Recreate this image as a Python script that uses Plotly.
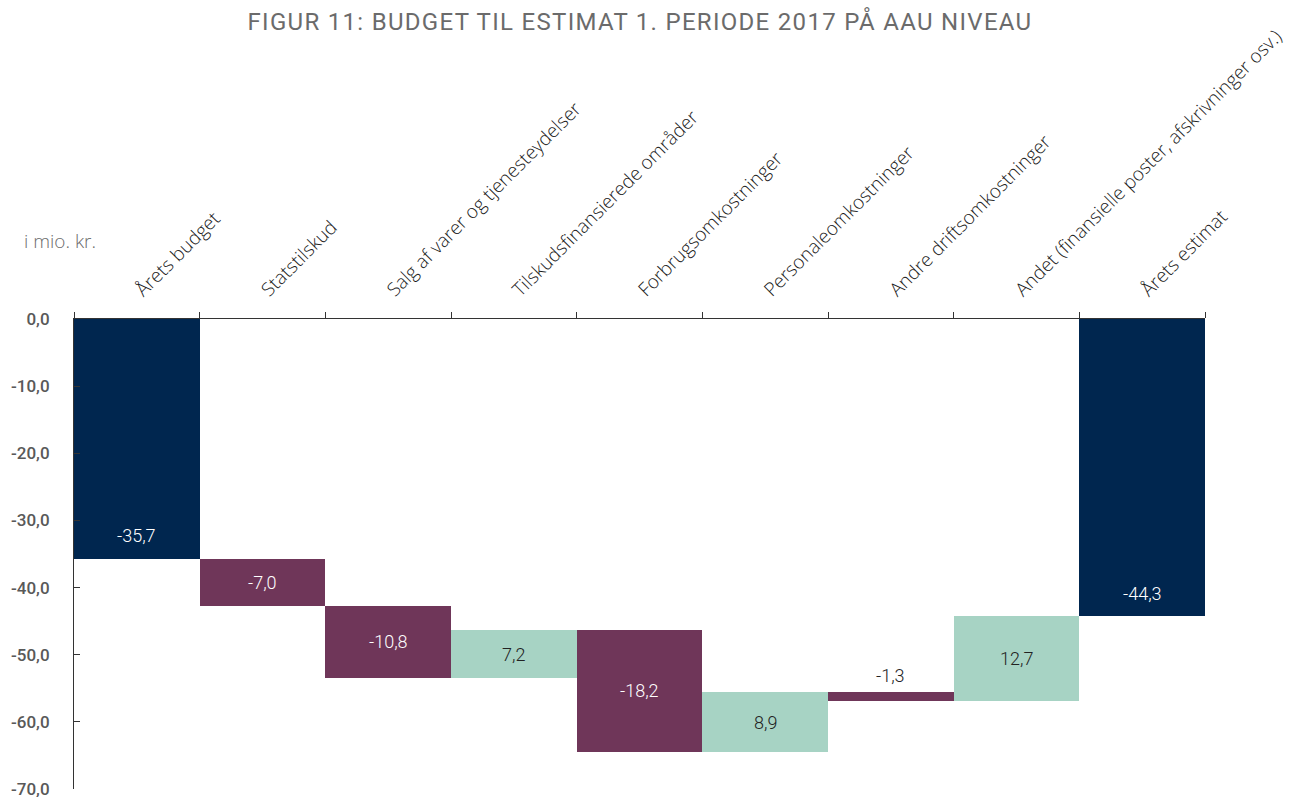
import plotly.graph_objects as go

categories = ["Årets budget", "Statstilskud", "Salg af varer og tjenesteydelser",
              "Tilskudsfinansierede områder", "Forbrugsomkostninger", "Personaleomkostninger",
              "Andre driftsomkostninger", "Andet (finansielle poster, afskrivninger osv.)",
              "Årets estimat"]
values = [-35.7, -7.0, -10.8, 7.2, -18.2, 8.9, -1.3, 12.7, -44.3]
measures = ["absolute", "relative", "relative", "relative", "relative", "relative",
            "relative", "relative", "absolute"]
y_ticks = [0, -10, -20, -30, -40, -50, -60, -70]

NAVY = "#00264f"
PURPLE = "#6f3659"
MINT = "#a7d3c4"

W, H = 1303, 797
ML, MR, MT, MB = 74, 98, 319, 8
PW, PH = W - ML - MR, H - MT - MB

def fmt(v):
    return f"{v:.1f}".replace(".", ",")

fig = go.Figure()
fig.add_trace(go.Waterfall(
    x=categories, y=values, measure=measures,
    decreasing=dict(marker=dict(color=PURPLE, line=dict(width=0))),
    increasing=dict(marker=dict(color=MINT, line=dict(width=0))),
    totals=dict(marker=dict(color=NAVY, line=dict(width=0))),
    connector=dict(visible=False),
    textinfo="none", hoverinfo="skip",
))

# data labels derived from the running totals
annotations = []
running = 0.0
for cat, v, m in zip(categories, values, measures):
    if m == "absolute":
        start, end = 0.0, v
        running = v
        y, anchor, col = end + 3.4, "middle", "white"
    else:
        start, end = running, running + v
        running = end
        if abs(v) < 3:
            y, anchor, col = max(start, end) + 0.6, "bottom", "#222222"
        else:
            y, anchor, col = (start + end) / 2, "middle", ("#222222" if v > 0 else "white")
    annotations.append(dict(x=cat, y=y, xref="x", yref="y", text=fmt(v), showarrow=False,
                            yanchor=anchor,
                            font=dict(family="Roboto", size=18, color=col, weight=300)))

annotations.append(dict(text="i mio. kr.", x=(22 - ML) / PW, y=(H - MB - 241) / PH,
                        xref="paper", yref="paper", xanchor="left", yanchor="middle",
                        showarrow=False,
                        font=dict(family="Open Sans", size=19, color="#6b6b6b", weight=300)))

fig.update_layout(
    width=W, height=H,
    margin=dict(l=ML, r=MR, t=MT, b=MB, autoexpand=False),
    paper_bgcolor="white", plot_bgcolor="white",
    waterfallgap=0, showlegend=False,
    title=dict(text="FIGUR 11: BUDGET TIL ESTIMAT 1. PERIODE 2017 PÅ AAU NIVEAU",
               x=640 / W, xanchor="center", y=1 - 22 / H, yanchor="middle",
               font=dict(family="Roboto", size=24, color="#6b6b6b")),
    font=dict(family="Roboto"),
    annotations=annotations,
)
fig.update_xaxes(side="top", tickangle=-45, ticks="outside", tickson="boundaries",
                 ticklen=6, tickcolor="#333", showline=True, linecolor="#333", linewidth=1,
                 ticklabelstandoff=10, automargin=False,
                 tickfont=dict(family="Open Sans", size=19, color="#1a1a1a", weight=300),
                 showgrid=False)
fig.update_yaxes(range=[-70, 0], tickvals=y_ticks, ticktext=[fmt(v) for v in y_ticks],
                 ticks="inside", ticklen=6, tickcolor="#333", showline=True, linecolor="#333",
                 linewidth=1, showgrid=False, zeroline=False, automargin=False,
                 ticklabelstandoff=20, ticklabeloverflow="allow",
                 tickfont=dict(family="Roboto", size=17, color="#595959", weight=500))

post = """
document.body.style.margin = '0';
document.querySelectorAll('.gtitle').forEach(function(e){ e.style.letterSpacing = '1.3px'; });
"""
fig.write_html("out.html", post_script=post, config={"displayModeBar": False})
